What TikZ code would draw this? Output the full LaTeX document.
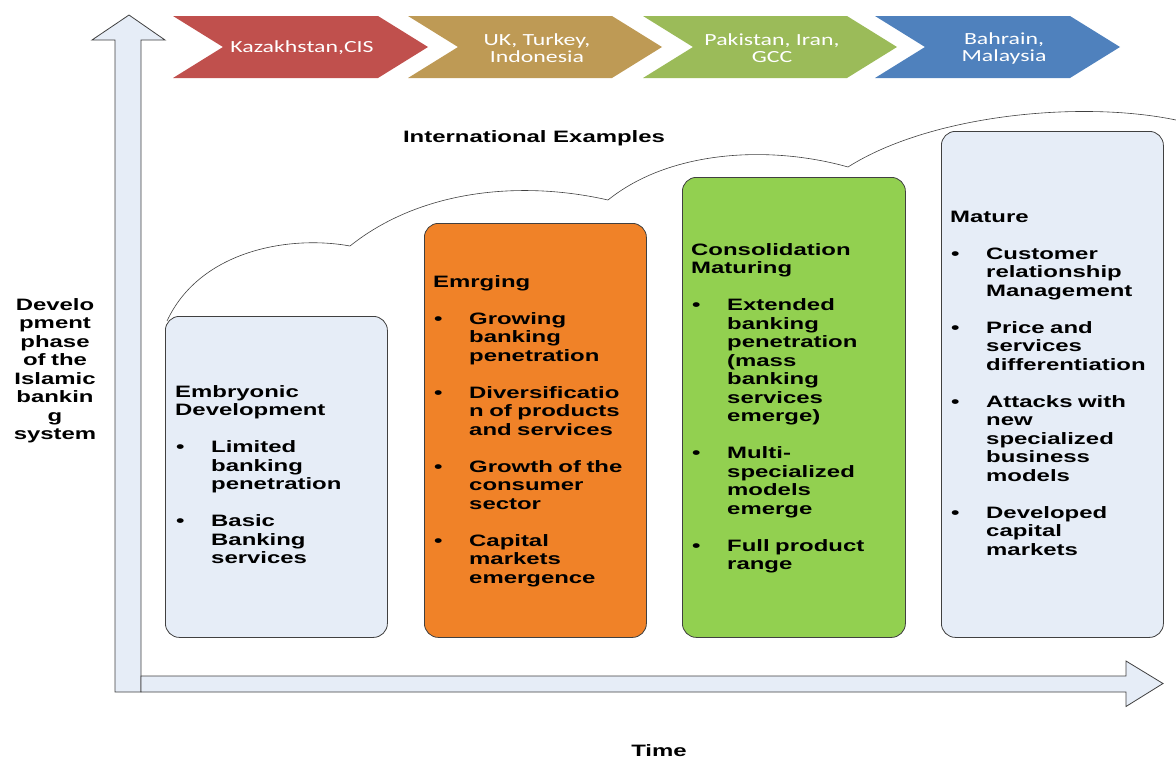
\documentclass[tikz,border=0pt]{standalone}
\usepackage{fontspec}
\setmainfont{Liberation Sans}
\newfontfamily\phasefont[FakeStretch=1.45]{Liberation Sans}
\newfontfamily\countryfont[FakeStretch=1.4]{Carlito}
\usetikzlibrary{positioning}

\definecolor{paleblue}{RGB}{230,237,247}
\definecolor{phaseorange}{RGB}{240,130,40}
\definecolor{phasegreen}{RGB}{146,208,80}
\definecolor{chevred}{RGB}{192,80,77}
\definecolor{chevtan}{RGB}{190,154,85}
\definecolor{chevgreen}{RGB}{155,187,89}
\definecolor{chevblue}{RGB}{79,129,189}
\definecolor{edgegray}{RGB}{64,64,64}

\newcommand\bul{\makebox[36pt][l]{\hspace{1pt}\textbullet}}
\newcommand\ind{\hspace*{36pt}}

\tikzset{
  phasebox/.style={draw=edgegray, line width=0.8pt, rounded corners=14pt,
    anchor=north west, inner sep=0pt},
  phasetext/.style={anchor=base west, inner sep=0pt, text width=200pt, align=left,
    font=\phasefont\bfseries\fontsize{16.5}{18.5}\selectfont},
  labeltext/.style={inner sep=0pt, font=\phasefont\bfseries\fontsize{16.5}{18.5}\selectfont},
  axisarrow/.style={fill=paleblue, draw=edgegray, line width=0.8pt},
  countrytext/.style={text=white, align=center, inner sep=0pt,
    font=\countryfont\fontsize{17}{17}\selectfont},
}

\begin{document}
\begin{tikzpicture}[x=1pt,y=-1pt]
    \useasboundingbox (0,0) rectangle (1176,758);

    % axes
    \draw[axisarrow] (115,692) -- (115,40) -- (92,40) -- (129,15) -- (165,40)
                -- (141,40) -- (141,692) -- cycle;
    \draw[axisarrow] (141,676) -- (1126,676) -- (1126,661) -- (1163,683.5)
                -- (1126,706.5) -- (1126,692) -- (141,692) -- cycle;

    % international examples
    \foreach \x/\tip/\col/\txt in {173/428/chevred/{Kazakhstan,CIS},
            408/662/chevtan/{UK, Turkey,\\Indonesia},
            643/897/chevgreen/{Pakistan, Iran,\\GCC},
            875/1120/chevblue/{Bahrain,\\Malaysia}}
    {
        \fill[\col] (\x,16) -- (\tip-50,16) -- (\tip,47) -- (\tip-50,78)
                    -- (\x,78) -- (\x+50,47) -- cycle;
        \node[countrytext] (ctry\x) at (\x+129,48) {\txt};
    }
    \node[labeltext] (intl) at (534,138) {International Examples};

    \draw[edgegray, line width=0.6pt] (167,321)
        .. controls (200,250) and (290,235) .. (350,246)
        .. controls (420,190) and (520,180) .. (608,200)
        .. controls (670,150) and (770,145) .. (848,167)
        .. controls (930,115) and (1080,100) .. (1176,120);

    % phases
    \node[phasebox, fill=paleblue, minimum width=222pt, minimum height=321pt] (embryo) at (165,316) {};
    \node[phasebox, fill=phaseorange, minimum width=222pt, minimum height=414pt] (emerging) at (424,223) {};
    \node[phasebox, fill=phasegreen, minimum width=223pt, minimum height=460pt] (consol) at (682,177) {};
    \node[phasebox, fill=paleblue, minimum width=222pt, minimum height=506pt] (mature) at (941,131) {};

    \node[phasetext] (embryotext) at (175,397) {Embryonic\\Development\\[18.5pt]
        \bul Limited\\\ind banking\\\ind penetration\\[18.5pt]
        \bul Basic\\\ind Banking\\\ind services};
    \node[phasetext] (emergingtext) at (433,287) {Emrging\\[18.5pt]
        \bul Growing\\\ind banking\\\ind penetration\\[18.5pt]
        \bul Diversificatio\\\ind n of products\\\ind and services\\[18.5pt]
        \bul Growth of the\\\ind consumer\\\ind sector\\[18.5pt]
        \bul Capital\\\ind markets\\\ind emergence};
    \node[phasetext] (consoltext) at (691,255) {Consolidation\\Maturing\\[18.5pt]
        \bul Extended\\\ind banking\\\ind penetration\\\ind (mass\\\ind banking\\\ind services\\\ind emerge)\\[18.5pt]
        \bul Multi-\\\ind specialized\\\ind models\\\ind emerge\\[18.5pt]
        \bul Full product\\\ind range};
    \node[phasetext] (maturetext) at (950,222) {Mature\\[18.5pt]
        \bul Customer\\\ind relationship\\\ind Management\\[18.5pt]
        \bul Price and\\\ind services\\\ind differentiation\\[18.5pt]
        \bul Attacks with\\\ind new\\\ind specialized\\\ind business\\\ind models\\[18.5pt]
        \bul Developed\\\ind capital\\\ind markets};

    % axis labels
    \node[labeltext, text width=100pt, align=center, anchor=base] (devlabel) at (55,310)
        {Develo\\pment\\phase\\of the\\Islamic\\bankin\\g\\system};
    \node[labeltext] (timelabel) at (659,751) {Time};
\end{tikzpicture}
\end{document}
